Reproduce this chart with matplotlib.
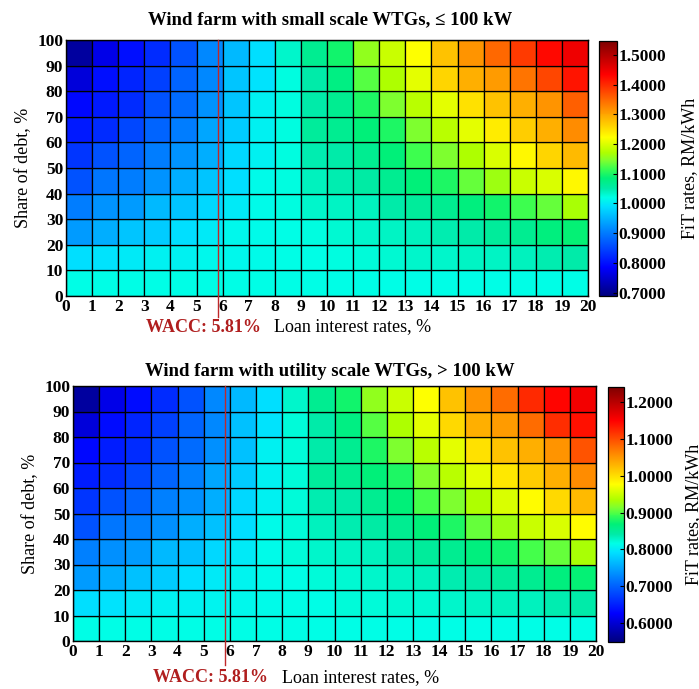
import numpy as np
import matplotlib
matplotlib.use("Agg")
import matplotlib.pyplot as plt
from matplotlib.colors import Normalize, LinearSegmentedColormap

# ---------------- data ----------------
loan_rates = list(range(0, 21))          # x edges, %
debt_shares = list(range(0, 101, 10))    # y edges, %
x_ticks = list(range(0, 21))
y_ticks = list(range(0, 101, 10))
wacc = 5.81

title_small = "Wind farm with small scale WTGs, \u2264 100 kW"
title_utility = "Wind farm with utility scale WTGs, > 100 kW"

# rows: share of debt 0-10, 10-20, ..., 90-100 ; cols: loan rate 0..19
fit_small = [
    [1.019] * 20,
    [0.989, 0.994, 0.998, 1.007, 1.007, 1.011, 1.013, 1.015, 1.018, 1.020, 1.024, 1.025, 1.028, 1.031, 1.032, 1.035, 1.037, 1.041, 1.045, 1.050],
    [0.929, 0.946, 0.964, 0.972, 0.989, 0.998, 1.011, 1.015, 1.019, 1.024, 1.028, 1.032, 1.037, 1.041, 1.045, 1.050, 1.058, 1.067, 1.080, 1.088],
    [0.903, 0.921, 0.929, 0.955, 0.964, 0.981, 0.998, 1.015, 1.024, 1.032, 1.037, 1.041, 1.050, 1.058, 1.067, 1.080, 1.092, 1.118, 1.135, 1.166],
    [0.860, 0.895, 0.903, 0.921, 0.946, 0.964, 0.989, 1.015, 1.024, 1.041, 1.045, 1.054, 1.067, 1.084, 1.101, 1.135, 1.161, 1.187, 1.196, 1.226],
    [0.835, 0.860, 0.878, 0.903, 0.921, 0.946, 0.981, 1.007, 1.024, 1.045, 1.050, 1.067, 1.084, 1.118, 1.144, 1.170, 1.196, 1.226, 1.256, 1.282],
    [0.809, 0.826, 0.852, 0.878, 0.903, 0.938, 0.972, 1.007, 1.024, 1.058, 1.067, 1.084, 1.101, 1.144, 1.178, 1.204, 1.239, 1.264, 1.290, 1.320],
    [0.792, 0.809, 0.826, 0.860, 0.886, 0.921, 0.964, 1.007, 1.024, 1.050, 1.067, 1.101, 1.144, 1.178, 1.204, 1.247, 1.273, 1.290, 1.316, 1.359],
    [0.757, 0.796, 0.817, 0.843, 0.878, 0.912, 0.964, 0.994, 1.024, 1.050, 1.075, 1.127, 1.170, 1.204, 1.256, 1.290, 1.307, 1.342, 1.380, 1.420],
    [0.714, 0.766, 0.796, 0.826, 0.860, 0.912, 0.955, 0.989, 1.032, 1.067, 1.092, 1.153, 1.187, 1.221, 1.273, 1.316, 1.350, 1.390, 1.430, 1.448],
]

fit_utility = [
    [0.815] * 20,
    [0.791, 0.794, 0.798, 0.805, 0.805, 0.808, 0.810, 0.812, 0.814, 0.816, 0.819, 0.820, 0.822, 0.824, 0.825, 0.828, 0.830, 0.832, 0.836, 0.839],
    [0.742, 0.756, 0.770, 0.777, 0.791, 0.798, 0.808, 0.812, 0.815, 0.819, 0.822, 0.825, 0.829, 0.832, 0.836, 0.839, 0.846, 0.853, 0.863, 0.870],
    [0.722, 0.735, 0.742, 0.763, 0.770, 0.784, 0.798, 0.812, 0.819, 0.825, 0.829, 0.832, 0.839, 0.846, 0.853, 0.863, 0.874, 0.895, 0.908, 0.933],
    [0.687, 0.715, 0.722, 0.735, 0.756, 0.770, 0.791, 0.812, 0.819, 0.832, 0.836, 0.843, 0.853, 0.867, 0.881, 0.908, 0.929, 0.950, 0.957, 0.981],
    [0.666, 0.687, 0.701, 0.722, 0.735, 0.756, 0.784, 0.805, 0.819, 0.836, 0.839, 0.853, 0.867, 0.895, 0.915, 0.936, 0.957, 0.981, 1.005, 1.026],
    [0.646, 0.659, 0.680, 0.701, 0.722, 0.749, 0.777, 0.805, 0.819, 0.846, 0.853, 0.867, 0.881, 0.915, 0.943, 0.964, 0.992, 1.012, 1.033, 1.057],
    [0.632, 0.646, 0.659, 0.687, 0.708, 0.735, 0.770, 0.805, 0.819, 0.839, 0.853, 0.881, 0.915, 0.943, 0.964, 0.998, 1.019, 1.033, 1.054, 1.095],
    [0.604, 0.635, 0.652, 0.673, 0.701, 0.728, 0.770, 0.794, 0.819, 0.839, 0.860, 0.902, 0.936, 0.964, 1.005, 1.033, 1.047, 1.081, 1.120, 1.140],
    [0.569, 0.611, 0.635, 0.659, 0.687, 0.728, 0.763, 0.791, 0.825, 0.853, 0.874, 0.922, 0.950, 0.978, 1.019, 1.054, 1.081, 1.123, 1.147, 1.158],
]

small_range = (0.6885, 1.548)
small_cticks = [0.7, 0.8, 0.9, 1.0, 1.1, 1.2, 1.3, 1.4, 1.5]
utility_range = (0.5486, 1.2406)
utility_cticks = [0.6, 0.7, 0.8, 0.9, 1.0, 1.1, 1.2]

# ---------------- style ----------------
# jet-like colormap tuned to the saturated look of the reference
jet_like = LinearSegmentedColormap.from_list("jet_like", [
    (0.00, (0.00, 0.00, 0.50)),
    (0.11, (0.00, 0.00, 1.00)),
    (0.25, (0.00, 0.50, 1.00)),
    (0.35, (0.00, 0.88, 1.00)),
    (0.385, (0.00, 1.00, 0.90)),
    (0.42, (0.00, 0.92, 0.66)),
    (0.46, (0.00, 0.94, 0.47)),
    (0.50, (0.25, 1.00, 0.30)),
    (0.53, (0.50, 1.00, 0.18)),
    (0.56, (0.68, 1.00, 0.00)),
    (0.62, (1.00, 1.00, 0.00)),
    (0.75, (1.00, 0.50, 0.00)),
    (0.87, (1.00, 0.00, 0.00)),
    (1.00, (0.50, 0.00, 0.00)),
])

SERIF = ["Liberation Serif", "DejaVu Serif"]
plt.rcParams["font.family"] = SERIF
W, H = 699, 689
fig = plt.figure(figsize=(W / 100, H / 100), dpi=100)


def fr(x0, y0, x1, y1):
    return [x0 / W, 1 - y1 / H, (x1 - x0) / W, (y1 - y0) / H]


def panel(ax_box, cb_box, data, title, vrange, cticks, title_y, wacc_xy, line_ext,
          cblabel_x):
    ax = fig.add_axes(fr(*ax_box))
    cax = fig.add_axes(fr(*cb_box))
    norm = Normalize(vmin=vrange[0], vmax=vrange[1])
    mesh = ax.pcolormesh(loan_rates, debt_shares, np.array(data), cmap=jet_like, norm=norm,
                         edgecolors="black", linewidth=0.9, antialiased=True)
    ax.set_xlim(0, 20)
    ax.set_ylim(0, 100)
    ax.set_xticks(x_ticks)
    ax.set_yticks(y_ticks)
    ax.tick_params(direction="in", length=0, labelsize=12.5, pad=2)
    for lab in ax.get_xticklabels() + ax.get_yticklabels():
        lab.set_fontweight("bold")
    for s in ax.spines.values():
        s.set_linewidth(1.0)
    ax.set_ylabel("Share of debt, %", fontsize=13, labelpad=4)
    # WACC line
    ax.plot([wacc, wacc], [100, line_ext], color="#c0282a", lw=1.0, clip_on=False,
            zorder=5)
    # texts
    fig.text(wacc_xy[0] / W, 1 - wacc_xy[1] / H, "WACC: 5.81%", color="#b01e1e",
             fontsize=13, fontweight="bold", ha="center", va="center")
    fig.text((wacc_xy[0] + 150) / W, 1 - wacc_xy[1] / H, "Loan interest rates, %",
             fontsize=13, ha="center", va="center")
    fig.text(330 / W, 1 - title_y / H, title, fontsize=13.5, fontweight="bold",
             ha="center", va="center")
    cb = fig.colorbar(mesh, cax=cax, ticks=cticks)
    cb.ax.set_yticklabels(["%.4f" % v for v in cticks], fontweight="bold", fontsize=12.5)
    cb.ax.tick_params(direction="in", length=3, width=0.8, pad=1)
    cb.outline.set_linewidth(0.9)
    fig.text(cblabel_x / W, 1 - ((cb_box[1] + cb_box[3]) / 2) / H, "FiT rates, RM/kWh",
             rotation=90, fontsize=13, ha="center", va="center")
    return ax


panel((66, 40, 588, 296), (599, 40.7, 617, 296), fit_small, title_small,
      small_range, small_cticks, 20, (203, 327), -8.2, 690)
panel((73, 386, 596, 641), (608, 387, 624, 642), fit_utility, title_utility,
      utility_range, utility_cticks, 371, (211, 678), -9.4, 694)

fig.savefig("out.png", dpi=100)
